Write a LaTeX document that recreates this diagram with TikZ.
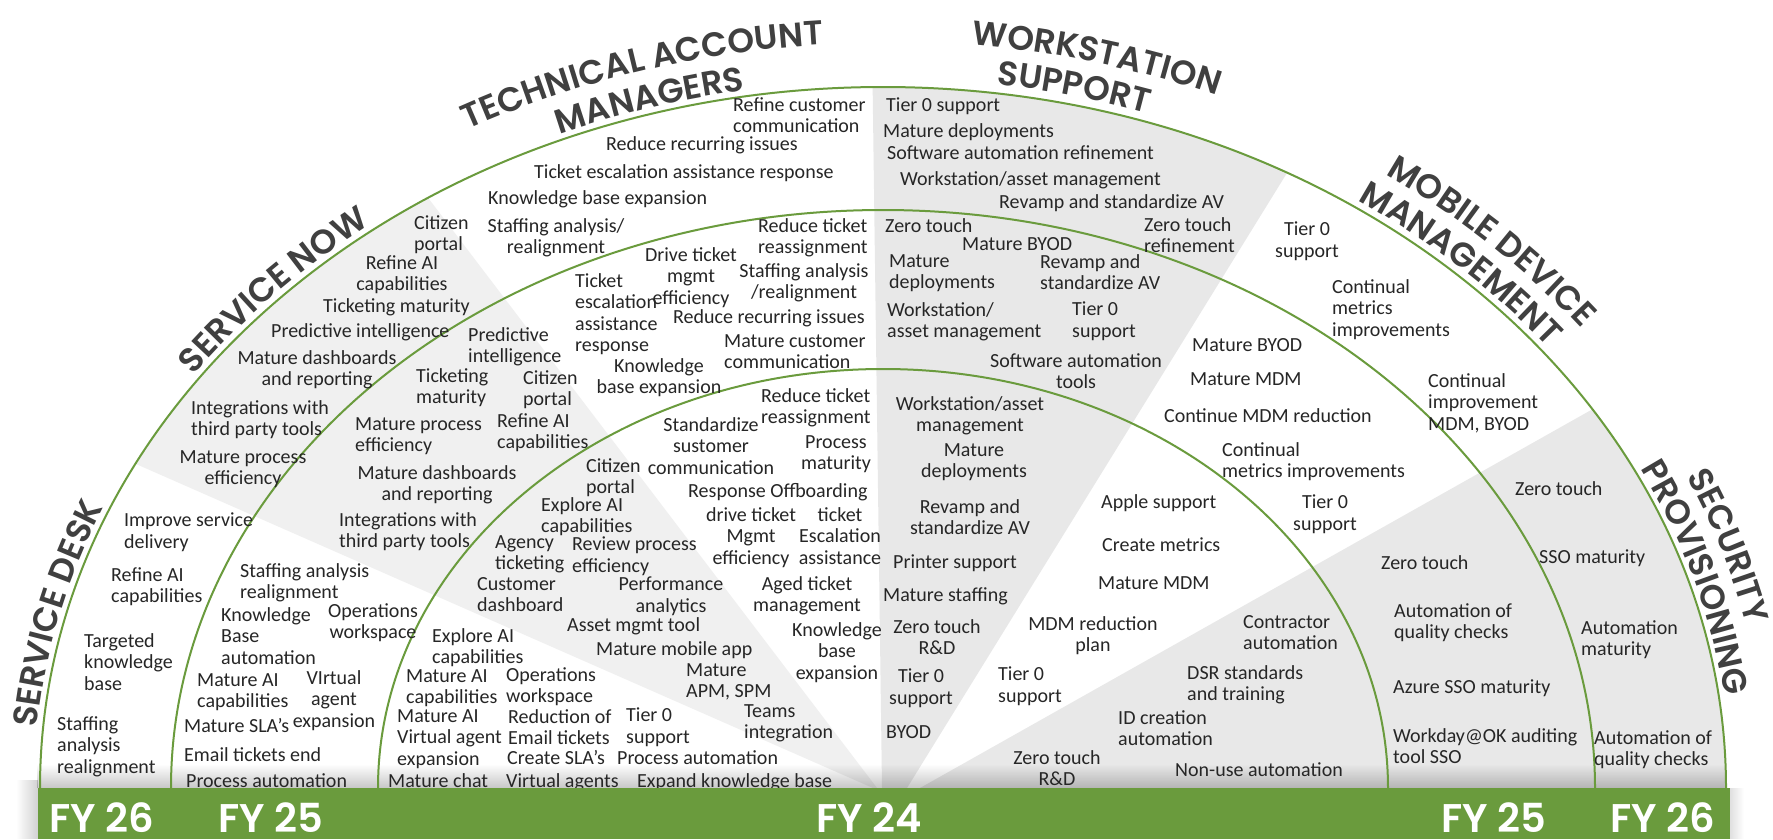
\documentclass[tikz,border=0pt]{standalone}
\usepackage{fontspec}
\setmainfont{Carlito}
\newfontfamily\headfont{Poppins}[UprightFont={* SemiBold}]
\usetikzlibrary{decorations.text,fadings}
\definecolor{grn}{RGB}{106,155,61}
\definecolor{txt}{RGB}{38,38,38}
\definecolor{headc}{RGB}{64,64,64}
\definecolor{gA}{RGB}{240,240,240}
\definecolor{gB}{RGB}{232,232,232}
\newcommand\itemfont{\fontsize{20}{21.5}\selectfont}
\newcommand\fyfont{\headfont\fontsize{40}{40}\selectfont}
\newcommand\headfmt{\headfont\fontsize{34}{34}\selectfont}
\newcommand\headarc[4]{%
 \pgfmathsetmacro\hdA{843+#1}\pgfmathsetmacro\hdB{701+#1}%
 \pgfmathsetmacro\hdS{#2-#3}\pgfmathsetmacro\hdE{#2+#3}%
 \path[decorate,decoration={text along path,text align=center,text color=headc,text={|\headfmt|#4}}]
  ({883+\hdA*cos(\hdS)},{788+\hdB*sin(\hdS)}) arc[start angle=\hdS,end angle=\hdE,x radius=\hdA,y radius=\hdB];}
\begin{document}
\begin{tikzpicture}[x=1pt,y=-1pt,
 item/.style={font=\itemfont,text=txt,inner sep=0pt,align=left,anchor=north west,execute at begin node={\vphantom{Tl}}},
 itemc/.style={item,align=center,anchor=north},
 fy/.style={font=\fyfont,text=white,inner sep=0pt,anchor=base},
 arcline/.style={draw=grn,line width=2pt}]
\useasboundingbox (0,0) rectangle (1773,839);
\fill[white] (0,0) rectangle (1773,839);
% sectors
\begin{scope}
\clip (883,788) ellipse [x radius=843, y radius=701];
\fill[gA] (873,788) -- (-5,402) -- (343,86) -- (877,788) -- cycle;
\fill[gB] (882,788) -- (872,40) -- (1358,58) -- (907,788) -- cycle;
\fill[gB] (920,788) -- (1774,307) -- (1774,788) -- cycle;
\end{scope}
% shadows
\fill[black,opacity=0.22,path fading=north] (38,764) rectangle (1730,788);
\fill[black,opacity=0.18,path fading=west] (16,780) rectangle (38,839);
\fill[black,opacity=0.12,path fading=east] (1730,788) rectangle (1744,839);
% arcs
\draw[arcline] (40,788) arc[start angle=180,end angle=360,x radius=843,y radius=701];
\draw[arcline] (171,788) arc[start angle=180,end angle=360,x radius=712,y radius=578];
\draw[arcline] (378,788) arc[start angle=180,end angle=360,x radius=505,y radius=419];
% ---------- outer ring
\node[item] (o1) at (124,513) {Improve service\\delivery};
\node[item] (o2) at (111,567) {Refine AI\\capabilities};
\node[item] (o3) at (84,633) {Targeted\\knowledge\\base};
\node[item] (o4) at (57,716) {Staffing\\analysis\\realignment};
\node[item] (o5) at (414,215) {Citizen\\portal};
\node[itemc] (o6) at (402,255) {Refine AI\\capabilities};
\node[item] (o7) at (323,298) {Ticketing maturity};
\node[item] (o8) at (271,323) {Predictive intelligence};
\node[itemc] (o9) at (317,350) {Mature dashboards\\and reporting};
\node[item] (o10) at (191,400) {Integrations with\\third party tools};
\node[itemc] (o11) at (243,450) {Mature process\\efficiency};
\node[item] (o12) at (733,97) {Refine customer\\communication};
\node[item] (o13) at (606,136) {Reduce recurring issues};
\node[item] (o14) at (534,164) {Ticket escalation assistance response};
\node[item] (o15) at (488,190) {Knowledge base expansion};
\node[itemc] (o16) at (556,218) {Staffing analysis/\\realignment};
\node[item] (o17) at (886,97) {Tier 0 support};
\node[item] (o18) at (883,123) {Mature deployments};
\node[item] (o19) at (887,145) {Software automation refinement};
\node[item] (o20) at (900,171) {Workstation/asset management};
\node[item] (o21) at (999,194) {Revamp and standardize AV};
\node[item] (o22) at (1144,217) {Zero touch\\refinement};
\node[itemc] (o23) at (1307,222) {Tier 0\\support};
\node[item] (o24) at (1332,279) {Continual\\metrics\\improvements};
\node[item] (o25) at (1428,373) {Continual\\improvement\\MDM, BYOD};
\node[item] (o26) at (1515,481) {Zero touch};
\node[item] (o27) at (1539,549) {SSO maturity};
\node[item] (o28) at (1581,620) {Automation\\maturity};
\node[item] (o29) at (1594,730) {Automation of\\quality checks};
% ---------- middle ring
\node[item] (m1) at (240,563) {Staffing analysis\\realignment};
\node[item] (m2) at (221,607) {Knowledge\\Base\\automation};
\node[itemc] (m3) at (373,603) {Operations\\workspace};
\node[item] (m4) at (197,673) {Mature AI\\capabilities};
\node[itemc] (m5) at (334,670) {VIrtual\\agent\\expansion};
\node[item] (m6) at (184,718) {Mature SLA’s};
\node[item] (m7) at (184,747) {Email tickets end};
\node[item] (m8) at (186,773) {Process automation};
\node[item] (m9) at (468,327) {Predictive\\intelligence};
\node[item] (m10) at (416,368) {Ticketing\\maturity};
\node[item] (m11) at (523,370) {Citizen\\portal};
\node[item] (m12) at (355,417) {Mature process\\efficiency};
\node[item] (m13) at (497,413) {Refine AI\\capabilities};
\node[itemc] (m14) at (437,465) {Mature dashboards\\and reporting};
\node[item] (m15) at (339,512) {Integrations with\\third party tools};
\node[item] (m16) at (758,218) {Reduce ticket\\reassignment};
\node[itemc] (m17) at (691,247) {Drive ticket\\mgmt\\efficiency};
\node[itemc] (m18) at (804,263) {Staffing analysis\\/realignment};
\node[item] (m19) at (575,273) {Ticket\\escalation\\assistance\\response};
\node[item] (m20) at (673,309) {Reduce recurring issues};
\node[item] (m21) at (724,334) {Mature customer\\communication};
\node[itemc] (m22) at (659,358) {Knowledge\\base expansion};
\node[item] (m23) at (885,218) {Zero touch};
\node[item] (m24) at (962,236) {Mature BYOD};
\node[item] (m25) at (889,254) {Mature\\deployments};
\node[item] (m26) at (1040,254) {Revamp and\\standardize AV};
\node[item] (m27) at (887,302) {Workstation/\\asset management};
\node[item] (m28) at (1072,302) {Tier 0\\support};
\node[itemc] (m29) at (1076,353) {Software automation\\tools};
\node[item] (m30) at (1192,337) {Mature BYOD};
\node[item] (m31) at (1190,371) {Mature MDM};
\node[item] (m32) at (1164,408) {Continue MDM reduction};
\node[item] (m33) at (1222,442) {Continual\\metrics improvements};
\node[itemc] (m34) at (1325,495) {Tier 0\\support};
\node[item] (m35) at (1381,555) {Zero touch};
\node[item] (m36) at (1394,603) {Automation of\\quality checks};
\node[item] (m37) at (1393,679) {Azure SSO maturity};
\node[item] (m38) at (1393,728) {Workday@OK auditing\\tool SSO};
% ---------- inner ring
\node[item] (i1) at (432,628) {Explore AI\\capabilities};
\node[item] (i2) at (406,669) {Mature AI\\capabilities};
\node[item] (i3) at (506,667) {Operations\\workspace};
\node[item] (i4) at (397,709) {Mature AI\\Virtual agent\\expansion};
\node[item] (i5) at (508,709) {Reduction of\\Email tickets};
\node[item] (i6) at (626,708) {Tier 0\\support};
\node[item] (i7) at (507,750) {Create SLA’s};
\node[item] (i8) at (617,750) {Process automation};
\node[item] (i9) at (388,773) {Mature chat};
\node[item] (i10) at (506,773) {Virtual agents};
\node[item] (i11) at (637,773) {Expand knowledge base};
\node[item] (i12) at (586,458) {Citizen\\portal};
\node[item] (i13) at (541,497) {Explore AI\\capabilities};
\node[item] (i14) at (495,535) {Agency\\ticketing};
\node[item] (i15) at (572,537) {Review process\\efficiency};
\node[item] (i16) at (477,577) {Customer\\dashboard};
\node[itemc] (i17) at (671,577) {Performance\\analytics};
\node[item] (i18) at (567,617) {Asset mgmt tool};
\node[item] (i19) at (596,641) {Mature mobile app};
\node[item] (i20) at (686,663) {Mature\\APM, SPM};
\node[item] (i21) at (744,704) {Teams\\integration};
\node[item] (i22) at (761,388) {Reduce ticket\\reassignment};
\node[itemc] (i23) at (711,417) {Standardize\\sustomer\\communication};
\node[itemc] (i24) at (836,435) {Process\\maturity};
\node[item] (i25) at (688,483) {Response Offboarding};
\node[itemc] (i26) at (751,507) {drive ticket\\Mgmt\\efficiency};
\node[itemc] (i27) at (840,507) {ticket\\Escalation\\assistance};
\node[itemc] (i28) at (807,576) {Aged ticket\\management};
\node[itemc] (i29) at (837,622) {Knowledge\\base\\expansion};
\node[itemc] (i30) at (970,396) {Workstation/asset\\management};
\node[itemc] (i31) at (974,443) {Mature\\deployments};
\node[itemc] (i32) at (970,499) {Revamp and\\standardize AV};
\node[item] (i33) at (893,554) {Printer support};
\node[item] (i34) at (883,587) {Mature staffing};
\node[itemc] (i35) at (937,619) {Zero touch\\R\&D};
\node[itemc] (i36) at (921,669) {Tier 0\\support};
\node[item] (i37) at (886,724) {BYOD};
\node[item] (i38) at (1101,494) {Apple support};
\node[item] (i39) at (1102,537) {Create metrics};
\node[item] (i40) at (1098,575) {Mature MDM};
\node[itemc] (i41) at (1093,616) {MDM reduction\\plan};
\node[item] (i42) at (998,667) {Tier 0\\support};
\node[item] (i43) at (1243,615) {Contractor\\automation};
\node[item] (i44) at (1187,665) {DSR standards\\and training};
\node[item] (i45) at (1118,710) {ID creation\\automation};
\node[itemc] (i46) at (1057,750) {Zero touch\\R\&D};
\node[item] (i47) at (1175,762) {Non-use automation};
% ---------- bar
\fill[grn] (38,788) rectangle (1730,839);
\node[fy] (fy1) at (102,832) {FY 26};
\node[fy] (fy2) at (271,832) {FY 25};
\node[fy] (fy3) at (869,832) {FY 24};
\node[fy] (fy4) at (1494,832) {FY 25};
\node[fy] (fy5) at (1663,832) {FY 26};
% ---------- headings
\headarc{6}{194}{16}{SERVICE DESK}
\headarc{6}{224}{16}{SERVICE NOW}
\headarc{44}{254}{18}{TECHNICAL ACCOUNT}
\headarc{6}{254}{16}{MANAGERS}
\headarc{46}{284}{16}{WORKSTATION}
\headarc{9}{283}{16}{SUPPORT}
\headarc{44}{313.5}{16}{MOBILE DEVICE}
\headarc{7}{313}{16}{MANAGEMENT}
\headarc{42}{341.5}{16}{SECURITY}
\headarc{6}{343}{16}{PROVISIONING}
\end{tikzpicture}
\end{document}
